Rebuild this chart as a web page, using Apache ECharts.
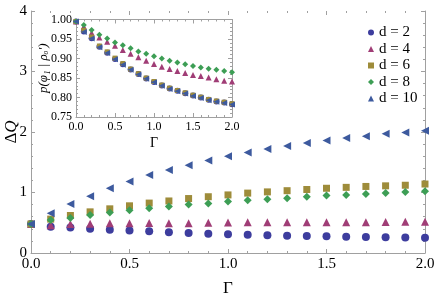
<!DOCTYPE html>
<html><head><meta charset="utf-8">
<script src="https://cdn.jsdelivr.net/npm/echarts@6/dist/echarts.min.js"></script>
<style>html,body{margin:0;padding:0;background:#fff}#c{width:436px;height:295px}</style>
</head><body><div id="c"></div>
<script>
const gamma = [0,0.1,0.2,0.3,0.4,0.5,0.6,0.7,0.8,0.9,1.0,1.1,1.2,1.3,1.4,1.5,1.6,1.7,1.8,1.9,2.0];
const names = ['d = 2','d = 4','d = 6','d = 8','d = 10'];
// main panel: Delta Q
const dq2  = [0.48,0.435,0.42,0.40,0.385,0.372,0.358,0.342,0.33,0.32,0.31,0.30,0.295,0.287,0.28,0.275,0.27,0.265,0.26,0.258,0.253];
const dq4  = [0.48,0.46,0.48,0.485,0.49,0.49,0.495,0.49,0.49,0.50,0.505,0.51,0.51,0.51,0.51,0.51,0.51,0.51,0.512,0.515,0.517];
const dq6  = [0.48,0.56,0.62,0.68,0.73,0.78,0.825,0.86,0.90,0.93,0.96,0.99,1.01,1.03,1.05,1.07,1.085,1.10,1.11,1.12,1.14];
const dq8  = [0.48,0.545,0.58,0.63,0.67,0.705,0.74,0.77,0.80,0.82,0.85,0.87,0.89,0.905,0.93,0.95,0.96,0.975,0.99,1.01,1.02];
const dq10 = [0.48,0.656,0.81,0.94,1.07,1.18,1.29,1.37,1.45,1.53,1.60,1.66,1.72,1.77,1.82,1.86,1.90,1.93,1.97,1.99,2.02];
// inset: probability
const p2  = [0.995,0.969,0.952,0.930,0.915,0.899,0.885,0.872,0.860,0.849,0.840,0.831,0.823,0.817,0.811,0.805,0.800,0.794,0.790,0.787,0.783];
const p4  = [0.995,0.982,0.966,0.954,0.943,0.933,0.922,0.912,0.903,0.894,0.886,0.879,0.873,0.868,0.863,0.858,0.855,0.851,0.847,0.843,0.841];
const p6  = [0.995,0.972,0.955,0.932,0.917,0.901,0.887,0.873,0.861,0.850,0.841,0.832,0.824,0.818,0.812,0.806,0.801,0.795,0.791,0.788,0.784];
const p8  = [0.995,0.986,0.973,0.961,0.951,0.941,0.934,0.926,0.918,0.912,0.906,0.900,0.894,0.890,0.885,0.881,0.877,0.874,0.871,0.868,0.865];
const p10 = [0.995,0.968,0.951,0.929,0.914,0.898,0.884,0.871,0.859,0.848,0.839,0.830,0.822,0.816,0.810,0.804,0.799,0.793,0.789,0.786,0.782];

const colors = ['#3D3D9E','#A03D76','#9E8C3A','#3D9E55','#3D5A9E'];
const symbols = ['circle','triangle','rect','diamond','triangle'];
const rots = [0,0,0,0,90];
const mainSizes = [8,8,7,8,8];
const insetSizes = [6,6,5,6,6];
const mainData = [dq2,dq4,dq6,dq8,dq10];
const insetData = [p2,p4,p6,p8,p10];
const FONT = 'Liberation Serif';
const axisCol = '#a0a0a0';

function pairs(arr){ return gamma.map((g,i)=>[g,arr[i]]); }

function xAx(grid, pos, labels, fs){
  return {
    type:'value', gridIndex:grid, position:pos, min:0, max:2, interval:0.5,
    nameMoveOverlap:false,
    axisLine:{show:true, onZero:false, lineStyle:{color:axisCol, width:1}},
    axisTick:{show:true, inside:true, length:4, lineStyle:{color:axisCol}},
    minorTick:{show:true, splitNumber:5, length:2, lineStyle:{color:axisCol}},
    axisLabel:{show:labels, color:'#000', fontFamily:FONT, fontSize:fs, margin:4,
      formatter:v=>v.toFixed(1)},
    splitLine:{show:false}
  };
}
function yAx(grid, pos, labels, min, max, itv, dec, fs){
  return {
    type:'value', gridIndex:grid, position:pos, min:min, max:max, interval:itv,
    nameMoveOverlap:false,
    axisLine:{show:true, onZero:false, lineStyle:{color:axisCol, width:1}},
    axisTick:{show:true, inside:true, length:4, lineStyle:{color:axisCol}},
    minorTick:{show:true, splitNumber:5, length:2, lineStyle:{color:axisCol}},
    axisLabel:{show:labels, color:'#000', fontFamily:FONT, fontSize:fs, margin:4,
      formatter:v=>v.toFixed(dec)},
    splitLine:{show:false}
  };
}

const xAxes = [xAx(0,'bottom',true,15), xAx(0,'top',false,15), xAx(1,'bottom',true,12), xAx(1,'top',false,12)];
xAxes[1].axisLine.show = false;
xAxes[0].name = 'Γ'; xAxes[0].nameLocation='middle'; xAxes[0].nameGap=27;
xAxes[0].nameTextStyle = {fontFamily:FONT, fontSize:17, color:'#000'};
xAxes[2].name = 'Γ'; xAxes[2].nameLocation='middle'; xAxes[2].nameGap=19;
xAxes[2].nameTextStyle = {fontFamily:FONT, fontSize:14, color:'#000'};

const yAxes = [yAx(0,'left',true,0,4,1,0,15), yAx(0,'right',false,0,4,1,0,15),
               yAx(1,'left',true,0.75,1.0,0.05,2,12), yAx(1,'right',false,0.75,1.0,0.05,2,12)];
yAxes[0].name = '{n|Δ}{i|Q}'; yAxes[0].nameLocation='middle'; yAxes[0].nameGap=11;
yAxes[0].nameTextStyle = {fontFamily:FONT, fontSize:17, color:'#000',
  rich:{n:{fontFamily:FONT,fontSize:17,color:'#000'}, i:{fontFamily:FONT,fontSize:17,fontStyle:'italic',color:'#000'}}};
yAxes[2].name = 'p(φ₁ | ρₒ′)'; yAxes[2].nameLocation='middle'; yAxes[2].nameGap=26;
yAxes[2].nameTextStyle = {fontFamily:FONT, fontSize:13, fontStyle:'italic', color:'#000'};

const series = [];
mainData.forEach((d,i)=>series.push({
  name:names[i], type:'scatter', xAxisIndex:0, yAxisIndex:0, data:pairs(d),
  symbol:symbols[i], symbolSize:mainSizes[i], symbolRotate:rots[i],
  itemStyle:{color:colors[i], opacity:1}, emphasis:{disabled:true}, z:2
}));
insetData.forEach((d,i)=>series.push({
  name:names[i], type:'scatter', xAxisIndex:2, yAxisIndex:2, data:pairs(d),
  symbol:symbols[i], symbolSize:insetSizes[i], symbolRotate:rots[i],
  itemStyle:{color:colors[i], opacity:1}, emphasis:{disabled:true}, z:3
}));

const chart = echarts.init(document.getElementById('c'), null, {renderer:'canvas'});
chart.setOption({
  animation:false,
  backgroundColor:'#fff',
  color:colors,
  grid:[
    {left:31, right:11, top:11, bottom:42, outerBoundsMode:'none', containLabel:false},
    {left:76, right:204, top:19.5, bottom:178, outerBoundsMode:'none', containLabel:false,
     show:true, backgroundColor:'#fff', borderWidth:0}
  ],
  legend:{
    orient:'vertical', left:363, top:20, itemWidth:6, itemHeight:6, itemGap:1.5,
    data:names, selectedMode:false,
    textStyle:{fontFamily:FONT, fontSize:15, color:'#000', lineHeight:15}, itemStyle:{opacity:1}
  },
  xAxis:xAxes,
  yAxis:yAxes,
  series:series
});
</script></body></html>
